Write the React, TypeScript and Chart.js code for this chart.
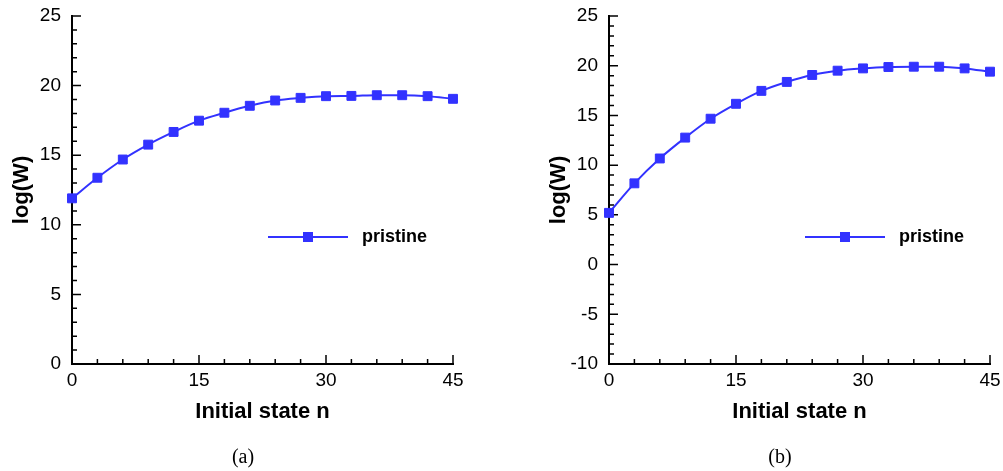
import React, { useEffect, useRef } from "react";
import { Chart, registerables } from "chart.js";

Chart.register(...registerables);

// ---- data ----
const stateN = [0, 3, 6, 9, 12, 15, 18, 21, 24, 27, 30, 33, 36, 39, 42, 45];
const logWA = [11.9, 13.38, 14.69, 15.76, 16.67, 17.48, 18.05, 18.55, 18.93, 19.12, 19.24, 19.26, 19.31, 19.31, 19.24, 19.05];
const logWB = [5.2, 8.17, 10.67, 12.77, 14.67, 16.17, 17.47, 18.37, 19.07, 19.5, 19.73, 19.87, 19.9, 19.9, 19.73, 19.4];
const xTicks = [0, 15, 30, 45];
const yTicksA = [0, 5, 10, 15, 20, 25];
const yTicksB = [-10, -5, 0, 5, 10, 15, 20, 25];
const xMinorStep = 3;
const yMinorStep = 1;
const seriesLabel = "pristine";
const xTitle = "Initial state n";
const yTitle = "log(W)";
const captions = ["(a)", "(b)"];

const BLUE = "#3232ff";
const SANS = '"Liberation Sans", Arial, Helvetica, sans-serif';

const decorPlugin = {
  id: "decor",
  beforeDatasetsDraw(chart: any) {
    const { ctx, chartArea, scales } = chart;
    const x = scales.x;
    const y = scales.y;
    ctx.save();
    ctx.strokeStyle = "#000";
    ctx.lineWidth = 1.5;
    ctx.beginPath();
    for (let v = x.min; v <= x.max + 1e-9; v += xMinorStep) {
      const px = x.getPixelForValue(v);
      const len = xTicks.includes(v) ? 9 : 5;
      ctx.moveTo(px, chartArea.bottom);
      ctx.lineTo(px, chartArea.bottom - len);
    }
    for (let v = y.min; v <= y.max + 1e-9; v += yMinorStep) {
      const py = y.getPixelForValue(v);
      const len = v % 5 === 0 ? 9 : 5;
      ctx.moveTo(chartArea.left, py);
      ctx.lineTo(chartArea.left + len, py);
    }
    ctx.stroke();
    ctx.restore();
  },
  afterDraw(chart: any) {
    const { ctx, chartArea } = chart;
    const ly = 237;
    const x0 = chartArea.left + 196;
    const x1 = chartArea.left + 276;
    const xm = (x0 + x1) / 2;
    ctx.save();
    ctx.strokeStyle = BLUE;
    ctx.lineWidth = 2;
    ctx.beginPath();
    ctx.moveTo(x0, ly);
    ctx.lineTo(x1, ly);
    ctx.stroke();
    ctx.fillStyle = BLUE;
    ctx.fillRect(xm - 5, ly - 5, 10, 10);
    ctx.fillStyle = "#000";
    ctx.font = `bold 18px ${SANS}`;
    ctx.textAlign = "left";
    ctx.textBaseline = "middle";
    ctx.fillText(chart.data.datasets[0].label, chartArea.left + 290, ly);
    ctx.restore();
  },
};

function Panel({ values, yTicks, left, caption }: { values: number[]; yTicks: number[]; left: number; caption: string }) {
  const ref = useRef<HTMLCanvasElement>(null);
  useEffect(() => {
    if (!ref.current) return;
    const chart = new Chart(ref.current, {
      type: "line",
      data: {
        datasets: [
          {
            label: seriesLabel,
            data: stateN.map((n, i) => ({ x: n, y: values[i] })),
            borderColor: BLUE,
            backgroundColor: BLUE,
            borderWidth: 2,
            pointStyle: "rect",
            pointRadius: 6.3,
            pointBorderWidth: 1,
            pointBackgroundColor: BLUE,
            pointBorderColor: BLUE,
            cubicInterpolationMode: "monotone",
            clip: false,
          } as any,
        ],
      },
      options: {
        responsive: false,
        animation: false,
        devicePixelRatio: 1,
        layout: { padding: { left: 0, top: 16, right: 13, bottom: 0 } },
        plugins: { legend: { display: false }, tooltip: { enabled: false } },
        scales: {
          x: {
            type: "linear",
            min: xTicks[0],
            max: xTicks[xTicks.length - 1],
            afterBuildTicks: (s: any) => {
              s.ticks = xTicks.map((v) => ({ value: v }));
            },
            afterFit: (s: any) => {
              s.height = 107;
              s.paddingLeft = 0;
              s.paddingRight = 0;
            },
            grid: { display: false, drawTicks: false },
            border: { display: true, color: "#000", width: 2 },
            ticks: { padding: 5, color: "#000", font: { family: SANS, size: 19 }, maxRotation: 0, autoSkip: false },
            title: {
              display: true,
              text: xTitle,
              color: "#000",
              font: { family: SANS, size: 22, weight: "bold" },
              padding: { top: 0, bottom: 46 },
            },
          },
          y: {
            type: "linear",
            min: yTicks[0],
            max: yTicks[yTicks.length - 1],
            afterBuildTicks: (s: any) => {
              s.ticks = yTicks.map((v) => ({ value: v }));
            },
            afterFit: (s: any) => {
              s.width = 72;
              s.paddingTop = 0;
              s.paddingBottom = 0;
            },
            grid: { display: false, drawTicks: false },
            border: { display: true, color: "#000", width: 2 },
            ticks: { padding: 11, color: "#000", font: { family: SANS, size: 19 }, autoSkip: false },
            title: {
              display: true,
              text: yTitle,
              color: "#000",
              font: { family: SANS, size: 22, weight: "bold" },
              padding: { top: 9, bottom: 0 },
            },
          },
        },
      } as any,
      plugins: [decorPlugin],
    });
    return () => chart.destroy();
  }, []);
  return (
    <>
      <canvas
        ref={ref}
        width={466}
        height={471}
        style={{ position: "absolute", left, top: 0, width: 466, height: 471 }}
      />
      <div
        style={{
          position: "absolute",
          left: left + 243 - 40,
          top: 444,
          width: 80,
          textAlign: "center",
          font: '20px "Liberation Serif", "Times New Roman", serif',
          lineHeight: "24px",
          color: "#000",
        }}
      >
        {caption}
      </div>
    </>
  );
}

export default function App() {
  return (
    <div style={{ position: "fixed", left: 0, top: 0, width: 1003, height: 471, background: "#fff", overflow: "hidden" }}>
      <Panel values={logWA} yTicks={yTicksA} left={0} caption={captions[0]} />
      <Panel values={logWB} yTicks={yTicksB} left={537} caption={captions[1]} />
    </div>
  );
}
